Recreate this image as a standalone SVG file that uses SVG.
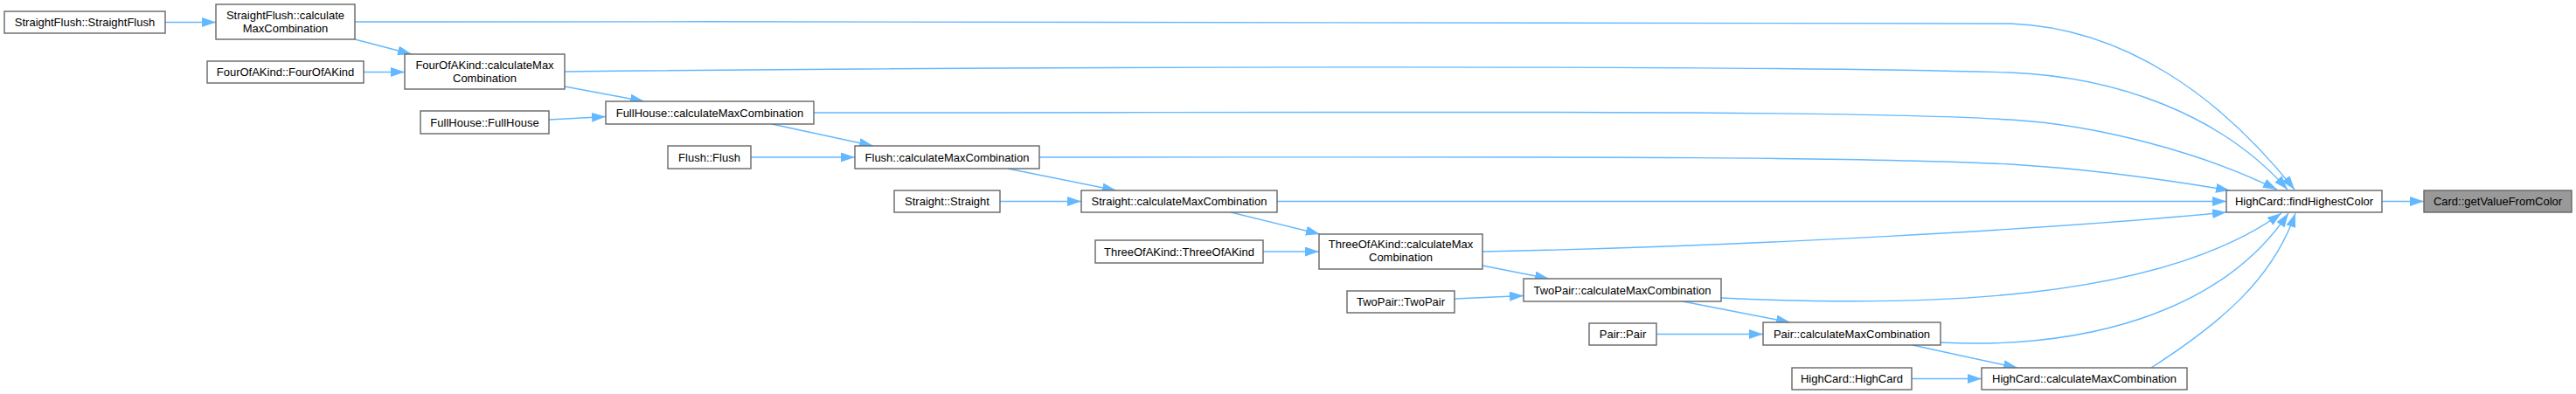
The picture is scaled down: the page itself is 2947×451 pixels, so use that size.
<svg xmlns="http://www.w3.org/2000/svg" width="2947" height="451" viewBox="0 0 2947 451">
<style>
.node rect{fill:#ffffff;stroke:#666666;stroke-width:1.4}
.node.hl rect{fill:#999999}
.node text{font-family:"Liberation Sans",Arial,Helvetica,sans-serif;font-size:13px;fill:#000000;text-anchor:middle}
.edge{fill:none;stroke:#63b8ff;stroke-width:1.4;marker-end:url(#arrow)}
</style>
<defs>
<marker id="arrow" markerUnits="userSpaceOnUse" markerWidth="16" markerHeight="11" viewBox="0 0 16 11" refX="16" refY="5.5" orient="auto">
<path d="M0,0 L16,5.5 L0,11 z" fill="#63b8ff"/>
</marker>
</defs>
<rect width="2947" height="451" fill="#ffffff"/>
<g id="connectors">
<path class="edge" d="M189,25.5 L247,25.5"/>
<path class="edge" d="M406,45 L471,62"/>
<path class="edge" d="M406,25 C1200,25 2150,22 2300,27 C2430,32 2540,110 2625,217"/>
<path class="edge" d="M416,82.5 L463,82.5"/>
<path class="edge" d="M646,99 L737,116"/>
<path class="edge" d="M646,82 C1200,76 2000,74 2300,83 C2420,88 2540,130 2617,217"/>
<path class="edge" d="M628,137 L693,133.5"/>
<path class="edge" d="M883,142 L999,167"/>
<path class="edge" d="M931,129 C1600,129 2100,125 2300,137 C2400,143 2520,175 2605,217"/>
<path class="edge" d="M859,180 L978,180"/>
<path class="edge" d="M1153,193 L1277,218"/>
<path class="edge" d="M1189,180 C1700,180 2100,178 2300,188 C2400,194 2480,206 2551,218"/>
<path class="edge" d="M1144,230.5 L1237,230.5"/>
<path class="edge" d="M1408,243 L1510,268"/>
<path class="edge" d="M1461,230.5 L2547,230.5"/>
<path class="edge" d="M1445,288 L1509,288"/>
<path class="edge" d="M1696,304 L1772,319"/>
<path class="edge" d="M1696,288 C2000,282 2350,262 2547,243"/>
<path class="edge" d="M1664,342 L1743,338.5"/>
<path class="edge" d="M1925,345 L2048,369"/>
<path class="edge" d="M1969,341 C2200,352 2470,345 2610,244"/>
<path class="edge" d="M1895,382.5 L2017,382.5"/>
<path class="edge" d="M2188,395 L2308,421"/>
<path class="edge" d="M2220,392 C2380,400 2540,360 2618,244"/>
<path class="edge" d="M2187,433.5 L2267,433.5"/>
<path class="edge" d="M2461,421 C2540,370 2600,320 2626,244"/>
<path class="edge" d="M2725,230.5 L2773,230.5"/>
</g>
<g id="n_straightflush_ctor" class="node"><rect x="5" y="13" width="184" height="25"/><text x="97" y="30">StraightFlush::StraightFlush</text></g>
<g id="n_straightflush_calc" class="node"><rect x="247" y="5" width="159" height="40"/><text x="326.5" y="21.5">StraightFlush::calculate</text><text x="326.5" y="36.5">MaxCombination</text></g>
<g id="n_fourofakind_ctor" class="node"><rect x="237" y="70" width="179" height="25"/><text x="326.5" y="87">FourOfAKind::FourOfAKind</text></g>
<g id="n_fourofakind_calc" class="node"><rect x="463" y="62" width="183" height="40"/><text x="554.5" y="78.5">FourOfAKind::calculateMax</text><text x="554.5" y="93.5">Combination</text></g>
<g id="n_fullhouse_ctor" class="node"><rect x="481" y="127" width="147" height="26"/><text x="554.5" y="144.5">FullHouse::FullHouse</text></g>
<g id="n_fullhouse_calc" class="node"><rect x="693" y="116" width="238" height="26"/><text x="812" y="133.5">FullHouse::calculateMaxCombination</text></g>
<g id="n_flush_ctor" class="node"><rect x="764" y="167" width="95" height="26"/><text x="811.5" y="184.5">Flush::Flush</text></g>
<g id="n_flush_calc" class="node"><rect x="978" y="167" width="211" height="26"/><text x="1083.5" y="184.5">Flush::calculateMaxCombination</text></g>
<g id="n_straight_ctor" class="node"><rect x="1023" y="218" width="121" height="25"/><text x="1083.5" y="235">Straight::Straight</text></g>
<g id="n_straight_calc" class="node"><rect x="1237" y="218" width="224" height="25"/><text x="1349" y="235">Straight::calculateMaxCombination</text></g>
<g id="n_threeofakind_ctor" class="node"><rect x="1253" y="275" width="192" height="26"/><text x="1349" y="292.5">ThreeOfAKind::ThreeOfAKind</text></g>
<g id="n_threeofakind_calc" class="node"><rect x="1509" y="268" width="187" height="40"/><text x="1602.5" y="284">ThreeOfAKind::calculateMax</text><text x="1602.5" y="299">Combination</text></g>
<g id="n_twopair_ctor" class="node"><rect x="1541" y="333" width="123" height="25"/><text x="1602.5" y="350">TwoPair::TwoPair</text></g>
<g id="n_twopair_calc" class="node"><rect x="1743" y="319" width="226" height="26"/><text x="1856" y="336.5">TwoPair::calculateMaxCombination</text></g>
<g id="n_pair_ctor" class="node"><rect x="1818" y="370" width="77" height="25"/><text x="1856.5" y="387">Pair::Pair</text></g>
<g id="n_pair_calc" class="node"><rect x="2017" y="369" width="203" height="26"/><text x="2118.5" y="386.5">Pair::calculateMaxCombination</text></g>
<g id="n_highcard_ctor" class="node"><rect x="2050" y="421" width="137" height="25"/><text x="2118.5" y="438">HighCard::HighCard</text></g>
<g id="n_highcard_calc" class="node"><rect x="2267" y="421" width="235" height="25"/><text x="2384.5" y="438">HighCard::calculateMaxCombination</text></g>
<g id="n_findhighestcolor" class="node"><rect x="2547" y="218" width="178" height="25"/><text x="2636" y="235">HighCard::findHighestColor</text></g>
<g id="n_getvaluefromcolor" class="node hl"><rect x="2773" y="218" width="169" height="25"/><text x="2857.5" y="235">Card::getValueFromColor</text></g>
</svg>
